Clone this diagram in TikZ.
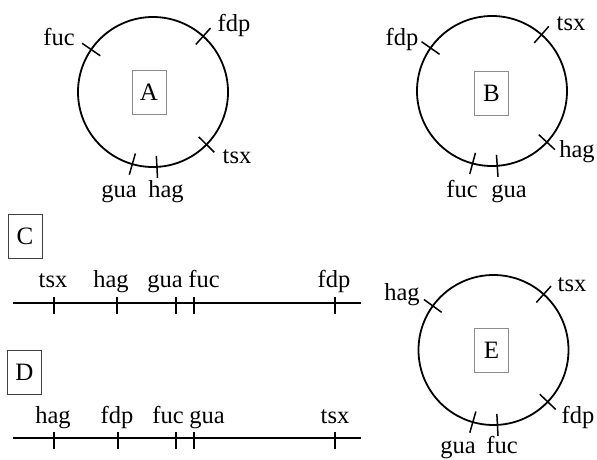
\documentclass[tikz,border=0pt]{standalone}
\usepackage{fontspec}
\setmainfont{Liberation Serif}
\usetikzlibrary{calc}
\begin{document}
\begin{tikzpicture}[x=1pt,y=1pt,
  lbl/.style={font=\fontsize{24.5}{28}\selectfont, inner sep=0pt, anchor=base},
  ring/.style={draw, circle, line width=1.8pt, minimum size=150pt, inner sep=0pt},
  letterbox/.style={draw=black!45, line width=0.8pt, minimum width=34pt, minimum height=44pt, inner sep=0pt, font=\fontsize{25}{28}\selectfont},
  darkbox/.style={letterbox, draw=black!75},
  tickmark/.style={line width=1.5pt},
  strand/.style={line width=1.6pt}]
\useasboundingbox (0,0) rectangle (597,-459);

% ---------- A ----------
\node[ring] (cA) at (153,-92) {};
\node[letterbox] (bA) at (149,-92) {A};
\foreach \a in {145.5,48,-44.5,-106,-87}
  \draw[tickmark] ($(cA.center)+(\a:64)$) -- ($(cA.center)+(\a:86)$);
\node[lbl] (Afuc) at (59,-45) {fuc};
\node[lbl] (Afdp) at (234,-31) {fdp};
\node[lbl] (Atsx) at (237,-163) {tsx};
\node[lbl] (Agua) at (119,-197) {gua};
\node[lbl] (Ahag) at (166,-197) {hag};

% ---------- B ----------
\node[ring] (cB) at (492,-91) {};
\node[letterbox] (bB) at (491.5,-93) {B};
\foreach \a in {145,48.7,-43,-105,-86}
  \draw[tickmark] ($(cB.center)+(\a:64)$) -- ($(cB.center)+(\a:86)$);
\node[lbl] (Bfdp) at (402,-45) {fdp};
\node[lbl] (Btsx) at (571,-30) {tsx};
\node[lbl] (Bhag) at (577,-157) {hag};
\node[lbl] (Bfuc) at (462,-197) {fuc};
\node[lbl] (Bgua) at (509,-197) {gua};

% ---------- E ----------
\node[ring] (cE) at (493.5,-350) {};
\node[letterbox] (bE) at (491.5,-350) {E};
\foreach \a in {144,48,-43.7,-106,-87}
  \draw[tickmark] ($(cE.center)+(\a:64)$) -- ($(cE.center)+(\a:86)$);
\node[lbl] (Ehag) at (402,-300) {hag};
\node[lbl] (Etsx) at (572,-291) {tsx};
\node[lbl] (Efdp) at (578,-423) {fdp};
\node[lbl] (Egua) at (458,-453) {gua};
\node[lbl] (Efuc) at (502,-453) {fuc};

% ---------- C ----------
\node[darkbox] (bC) at (25,-236.5) {C};
\coordinate (cL) at (13,-303);
\coordinate (cR) at (361,-303);
\draw[strand] (cL) -- (cR);
\foreach \x in {54,117,176,194,335}
  \draw[tickmark] (\x,-297) -- (\x,-314);
\node[lbl] (Ctsx) at (53,-287) {tsx};
\node[lbl] (Chag) at (111,-287) {hag};
\node[lbl] (Cgua) at (165,-287) {gua};
\node[lbl] (Cfuc) at (204,-287) {fuc};
\node[lbl] (Cfdp) at (334,-287) {fdp};

% ---------- D ----------
\node[darkbox] (bD) at (24.5,-372) {D};
\coordinate (dL) at (13,-438);
\coordinate (dR) at (361,-438);
\draw[strand] (dL) -- (dR);
\foreach \x in {54,118,176,194,335}
  \draw[tickmark] (\x,-432) -- (\x,-449);
\node[lbl] (Dhag) at (53,-423) {hag};
\node[lbl] (Dfdp) at (117,-423) {fdp};
\node[lbl] (Dfuc) at (168,-423) {fuc};
\node[lbl] (Dgua) at (207,-423) {gua};
\node[lbl] (Dtsx) at (335,-423) {tsx};
\end{tikzpicture}
\end{document}
